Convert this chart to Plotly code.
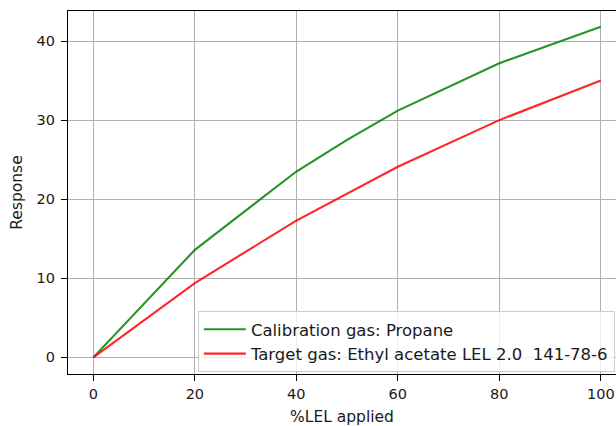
import plotly.graph_objects as go

lel_applied = [0, 20, 40, 50, 60, 80, 100]
calibration_propane = [0, 13.6, 23.5, 27.5, 31.2, 37.2, 41.8]
target_ethyl_acetate = [0, 9.4, 17.3, 20.7, 24.1, 30.0, 35.0]
x_ticks = [0, 20, 40, 60, 80, 100]
y_ticks = [0, 10, 20, 30, 40]

FONT = "DejaVu Sans"

fig = go.Figure()
fig.add_trace(go.Scatter(x=lel_applied, y=calibration_propane, mode="lines",
                         name="Calibration gas: Propane",
                         line=dict(color="rgba(0,128,0,0.85)", width=2.1)))
fig.add_trace(go.Scatter(x=lel_applied, y=target_ethyl_acetate, mode="lines",
                         name="Target gas: Ethyl acetate LEL 2.0  141-78-6",
                         line=dict(color="rgba(255,0,0,0.85)", width=2.1)))

fig.update_layout(
    width=616, height=426,
    margin=dict(l=68, r=0, t=11, b=52),
    paper_bgcolor="white", plot_bgcolor="white",
    font=dict(family=FONT, size=14.5, color="#1a1a1a"),
    xaxis=dict(range=[-5, 103.0], tickvals=x_ticks, showgrid=True, gridcolor="#b0b0b0",
               gridwidth=1.1, zeroline=False, showline=True, linecolor="black", linewidth=1.1,
               mirror=True, ticks="outside", ticklen=6, tickwidth=1.1, tickcolor="black",
               ticklabelstandoff=1,
               title=dict(text="%LEL applied", font=dict(size=15.5), standoff=9)),
    yaxis=dict(range=[-2.1, 43.8], tickvals=y_ticks, showgrid=True, gridcolor="#b0b0b0",
               gridwidth=1.1, zeroline=False, showline=True, linecolor="black", linewidth=1.1,
               mirror=False, ticks="outside", ticklen=6, tickwidth=1.1, tickcolor="black",
               ticklabelstandoff=3,
               title=dict(text="Response", font=dict(size=15.5), standoff=10)),
    legend=dict(x=0.237, y=0.1736, xanchor="left", yanchor="top",
                bgcolor="rgba(255,255,255,0.8)", bordercolor="#cccccc", borderwidth=1,
                itemwidth=42, font=dict(size=16.5)),
)

fig.write_html(
    "out.html",
    config={"displayModeBar": False},
    post_script="document.body.style.margin='0';document.body.style.overflow='hidden';",
)
